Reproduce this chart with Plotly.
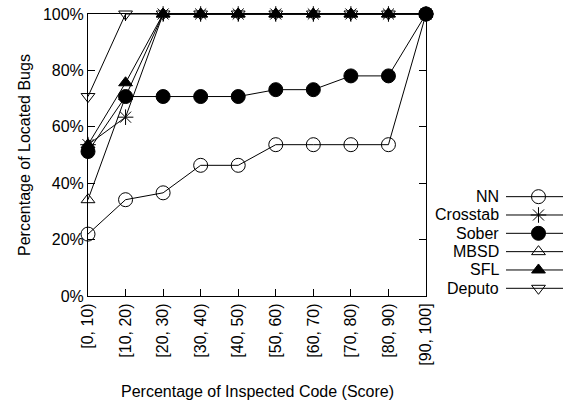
import plotly.graph_objects as go

categories = ["[0, 10)", "[10, 20)", "[20, 30)", "[30, 40)", "[40, 50)",
              "[50, 60)", "[60, 70)", "[70, 80)", "[80, 90)", "[90, 100]"]

nn = [21.95, 34.15, 36.59, 46.34, 46.34, 53.66, 53.66, 53.66, 53.66, 100]
crosstab = [53.66, 63.41, 100, 100, 100, 100, 100, 100, 100, 100]
sober = [51.22, 70.73, 70.73, 70.73, 70.73, 73.17, 73.17, 78.05, 78.05, 100]
mbsd = [34.15, 70.73, 100, 100, 100, 100, 100, 100, 100, 100]
sfl = [53.66, 75.61, 100, 100, 100, 100, 100, 100, 100, 100]
deputo = [70.73, 100, 100, 100, 100, 100, 100, 100, 100, 100]

series_names = ["NN", "Crosstab", "Sober", "MBSD", "SFL", "Deputo"]
series_values = [nn, crosstab, sober, mbsd, sfl, deputo]
symbols = ["circle-open", "asterisk-open", "circle", "triangle-up-open",
           "triangle-up", "triangle-down-open"]
sizes = [14, 13, 14, 12, 12, 12]

yticks = [0, 20, 40, 60, 80, 100]
ytick_labels = ["0%", "20%", "40%", "60%", "80%", "100%"]

x_title = "Percentage of Inspected Code (Score)"
y_title = "Percentage of Located Bugs"

FONT = "Liberation Sans, Arial, sans-serif"

W, H = 570, 401
ml, mr, mt = 88, 6, 14
plot_bottom = 296
mb = H - plot_bottom
pw = W - ml - mr
ph = H - mt - mb


def pxx(p):
    return (p - ml) / pw


def pxy(p):
    return (plot_bottom - p) / ph


main_right = pxx(426)

fig = go.Figure()

xi = list(range(len(categories)))
for name, vals, sym, sz in zip(series_names, series_values, symbols, sizes):
    fig.add_trace(go.Scatter(
        x=xi, y=vals, mode="lines+markers", name=name,
        line=dict(color="black", width=1),
        marker=dict(symbol=sym, size=sz, color="black",
                    line=dict(color="black", width=1)),
        showlegend=False, cliponaxis=False,
    ))

# custom gnuplot-style key (text left, sample right)
for i, (name, sym, sz) in enumerate(zip(series_names, symbols, sizes)):
    fig.add_trace(go.Scatter(
        x=[0, 1], y=[i, i], mode="lines", xaxis="x2", yaxis="y2",
        line=dict(color="black", width=1), showlegend=False, hoverinfo="skip"))
    fig.add_trace(go.Scatter(
        x=[0.57], y=[i], mode="markers", xaxis="x2", yaxis="y2",
        marker=dict(symbol=sym, size=sz, color="black",
                    line=dict(color="black", width=1)),
        showlegend=False, hoverinfo="skip", cliponaxis=False))
    fig.add_annotation(x=0, y=i, xref="x2", yref="y2", text=name,
                       showarrow=False, xanchor="right", yanchor="middle",
                       xshift=-5, font=dict(family=FONT, size=16, color="black"))

fig.add_annotation(x=main_right / 2, y=pxy(391), xref="paper", yref="paper",
                   text=x_title, showarrow=False, xanchor="center", yanchor="middle",
                   font=dict(family=FONT, size=16, color="black"))
fig.add_annotation(x=pxx(24), y=0.5, xref="paper", yref="paper",
                   text=y_title, showarrow=False, xanchor="center", yanchor="middle",
                   textangle=-90, font=dict(family=FONT, size=16, color="black"))

fig.update_layout(
    width=W, height=H,
    margin=dict(l=ml, r=mr, t=mt, b=mb),
    paper_bgcolor="white", plot_bgcolor="white",
    font=dict(family=FONT, size=16, color="black"),
    xaxis=dict(
        domain=[0, main_right], range=[0, len(categories) - 1],
        tickmode="array", tickvals=xi, ticktext=categories, tickangle=-90,
        ticks="inside", ticklen=7, tickcolor="black", tickwidth=1,
        showline=True, linecolor="black", linewidth=1, mirror="allticks",
        showgrid=False, zeroline=False, automargin=False,
        ticklabeloverflow="allow",
    ),
    yaxis=dict(
        range=[0, 100], tickmode="array", tickvals=yticks, ticktext=ytick_labels,
        ticks="inside", ticklen=7, tickcolor="black", tickwidth=1,
        showline=True, linecolor="black", linewidth=1, mirror="allticks",
        showgrid=False, zeroline=False, automargin=False,
        ticklabeloverflow="allow",
    ),
    xaxis2=dict(domain=[pxx(506), pxx(563)], range=[0, 1],
                visible=False, anchor="y2", fixedrange=True),
    yaxis2=dict(domain=[0, pxy(187.5)], range=[5.42, -0.5],
                visible=False, anchor="x2", fixedrange=True),
)

fig.write_html("out.html",
               config={"displayModeBar": False},
               post_script="document.body.style.margin='0';")
